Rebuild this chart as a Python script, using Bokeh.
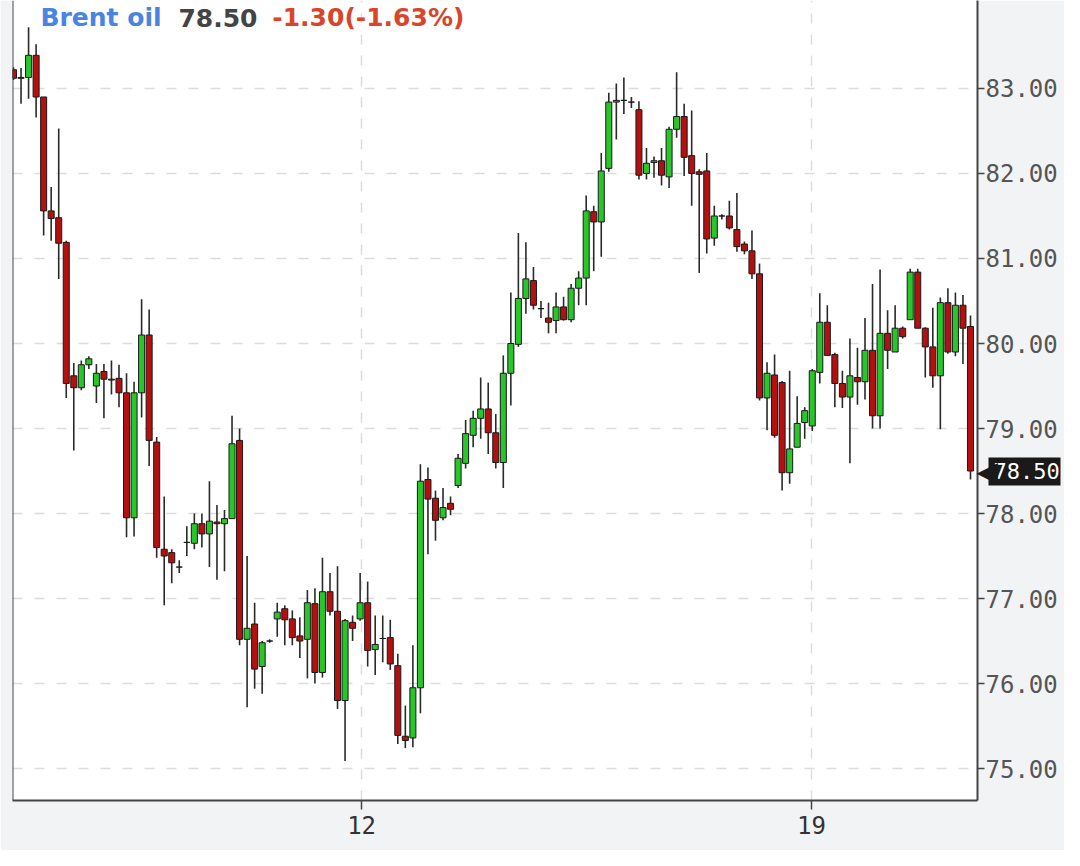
from bokeh.plotting import figure
from bokeh.models import (Range1d, FixedTicker, NumeralTickFormatter, Label, Span, LinearAxis)
from bokeh.embed import file_html
from bokeh.resources import INLINE

# ---- data: 2-hour candles, Brent oil, Dec 2023 ----
opens = [83.22, 83.12, 83.13, 83.39, 82.90, 81.56, 81.48, 81.19, 79.62, 79.48,
         79.75, 79.50, 79.67, 79.58, 79.59, 79.42, 77.95, 79.42, 80.10, 78.84,
         77.58, 77.54, 77.37, 77.66, 77.65, 77.88, 77.76, 77.90, 77.88, 77.94,
         78.86, 76.52, 76.70, 76.20, 76.50, 76.76, 76.88, 76.76, 76.56, 76.52,
         76.94, 76.13, 77.08, 76.85, 75.80, 76.72, 76.76, 76.95, 76.40, 76.53,
         76.54, 76.21, 75.38, 75.36, 75.95, 78.40, 78.18, 77.95, 78.12, 78.33,
         78.59, 78.92, 79.12, 79.23, 78.95, 78.60, 79.65, 79.99, 80.53, 80.74,
         80.41, 80.30, 80.27, 80.43, 80.28, 80.65, 80.77, 81.55, 81.43, 82.06,
         82.84, 82.86, 82.84, 82.75, 82.00, 82.13, 82.15, 81.96, 82.52, 82.67,
         82.21, 82.02, 82.03, 81.24, 81.50, 81.50, 81.34, 81.17, 81.09, 80.82,
         79.36, 79.63, 79.54, 78.48, 78.78, 79.07, 79.03, 79.66, 80.25, 79.87,
         79.53, 79.37, 79.60, 79.55, 79.92, 79.15, 80.12, 79.90, 80.18, 80.28,
         80.84, 80.18, 79.96, 79.62, 80.48, 79.90, 80.45, 80.20]
highs = [83.25, 83.24, 83.72, 83.52, 82.90, 81.84, 82.53, 81.21, 79.77, 79.80,
         79.85, 79.76, 79.76, 79.80, 79.75, 79.65, 79.55, 80.52, 80.40, 78.90,
         78.20, 77.58, 77.45, 77.85, 78.00, 78.00, 78.38, 78.10, 78.04, 79.15,
         79.00, 77.50, 76.95, 76.50, 76.52, 76.95, 76.92, 76.86, 76.78, 77.10,
         77.12, 77.48, 77.30, 77.38, 76.76, 76.80, 77.30, 77.20, 76.80, 76.80,
         76.75, 76.35, 75.74, 76.45, 78.58, 78.54, 78.27, 78.30, 78.20, 78.70,
         79.10, 79.21, 79.60, 79.54, 79.17, 79.86, 80.60, 81.30, 81.19, 80.90,
         80.50, 80.48, 80.60, 80.55, 80.70, 80.85, 81.74, 81.62, 82.24, 82.95,
         83.06, 83.13, 82.90, 82.85, 82.30, 82.20, 82.30, 82.55, 83.19, 82.82,
         82.74, 82.05, 82.24, 81.62, 81.52, 81.68, 81.77, 81.20, 81.33, 80.94,
         79.78, 79.87, 79.56, 79.68, 79.38, 79.25, 79.70, 80.59, 80.45, 79.89,
         79.68, 80.06, 79.95, 80.30, 80.70, 80.87, 80.39, 80.45, 80.20, 80.88,
         80.88, 80.19, 80.42, 80.54, 80.65, 80.60, 80.57, 80.33]
lows = [83.10, 82.82, 82.88, 82.66, 81.27, 81.21, 80.76, 79.36, 78.74, 79.45,
        79.70, 79.30, 79.12, 79.40, 79.25, 77.72, 77.73, 79.13, 78.56, 77.48,
        76.92, 77.18, 77.30, 77.50, 77.58, 77.60, 77.37, 77.22, 77.32, 77.94,
        76.45, 75.72, 75.94, 75.88, 76.48, 76.55, 76.45, 76.45, 76.30, 76.06,
        76.00, 76.07, 76.80, 75.70, 75.09, 76.50, 76.74, 76.20, 76.10, 76.25,
        76.16, 75.29, 75.24, 75.25, 75.65, 77.52, 77.68, 77.92, 77.98, 78.30,
        78.53, 78.78, 78.88, 78.70, 78.53, 78.30, 79.27, 79.96, 80.35, 80.40,
        80.30, 80.12, 80.12, 80.27, 80.25, 80.45, 80.45, 80.85, 81.02, 82.02,
        82.40, 82.70, 82.77, 81.93, 81.93, 81.95, 81.86, 81.83, 82.42, 81.97,
        81.62, 80.83, 81.06, 81.15, 81.46, 81.34, 81.08, 81.05, 80.76, 79.33,
        78.98, 78.89, 78.27, 78.35, 78.78, 78.88, 78.97, 79.53, 79.86, 79.25,
        79.24, 78.59, 79.28, 79.34, 79.00, 79.00, 79.70, 79.90, 80.06, 80.28,
        80.18, 79.60, 79.48, 78.99, 79.88, 79.85, 79.76, 78.40]
closes = [83.12, 83.13, 83.39, 82.90, 81.56, 81.47, 81.18, 79.53, 79.48, 79.75,
          79.82, 79.65, 79.58, 79.57, 79.42, 77.95, 79.42, 80.10, 78.86, 77.60,
          77.50, 77.42, 77.37, 77.66, 77.88, 77.76, 77.91, 77.88, 77.94, 78.82,
          76.52, 76.65, 76.17, 76.48, 76.50, 76.84, 76.75, 76.54, 76.50, 76.95,
          76.13, 77.08, 76.85, 75.80, 76.74, 76.65, 76.95, 76.39, 76.46, 76.53,
          76.23, 75.39, 75.33, 75.95, 78.38, 78.17, 77.92, 78.07, 78.05, 78.65,
          78.94, 79.12, 79.23, 78.95, 78.60, 79.65, 80.00, 80.53, 80.76, 80.45,
          80.41, 80.25, 80.43, 80.28, 80.65, 80.77, 81.56, 81.43, 82.03, 82.84,
          82.86, 82.86, 82.84, 81.98, 82.12, 82.15, 81.98, 82.52, 82.67, 82.19,
          82.00, 81.99, 81.23, 81.50, 81.50, 81.36, 81.14, 81.09, 80.82, 79.36,
          79.65, 78.92, 78.48, 78.76, 79.06, 79.21, 79.68, 80.25, 79.86, 79.53,
          79.37, 79.62, 79.55, 79.92, 79.15, 80.12, 79.92, 80.18, 80.08, 80.84,
          80.18, 79.96, 79.62, 80.48, 79.90, 80.45, 80.18, 78.50]

price_ticks = [75, 76, 77, 78, 79, 80, 81, 82, 83]
day_ticks = [46.2, 105.9]
day_labels = ["12", "19"]
title_parts = ["Brent oil", "78.50", "-1.30(-1.63%)"]
last_price = 78.50

# ---- derived ----
idx = list(range(len(opens)))
tops = [max(o, c) for o, c in zip(opens, closes)]
bottoms = [min(o, c) for o, c in zip(opens, closes)]
colors = ["#28c628" if c > o else ("#b3100f" if c < o else "#333333")
          for o, c in zip(opens, closes)]

X0, X1 = -0.133, 127.93
p = figure(width=1064, height=850, output_backend="svg", toolbar_location=None,
           x_range=Range1d(X0, X1), y_range=Range1d(74.624, 84.035),
           y_axis_location="right", min_border_left=12, min_border_right=87,
           min_border_top=0, min_border_bottom=50)
p.background_fill_color = "white"
p.border_fill_color = "#f2f3f5"
p.outline_line_color = None

# axes
ya = p.yaxis[0]
ya.ticker = FixedTicker(ticks=price_ticks)
ya.formatter = NumeralTickFormatter(format="0.00")
ya.axis_line_color = "#444444"
ya.axis_line_width = 2
ya.major_tick_line_color = "#444444"
ya.major_tick_line_width = 1.5
ya.major_tick_out = 7
ya.major_tick_in = 0
ya.minor_tick_line_color = None
ya.major_label_standoff = 1
ya.major_label_text_font = "DejaVu Sans Mono"
ya.major_label_text_font_size = "24px"
ya.major_label_text_color = "#555555"

xa = p.xaxis[0]
xa.ticker = FixedTicker(ticks=day_ticks)
xa.major_label_overrides = dict(zip(day_ticks, day_labels))
xa.axis_line_color = "#444444"
xa.axis_line_width = 2
xa.major_tick_line_color = "#444444"
xa.major_tick_line_width = 1.5
xa.major_tick_out = 9
xa.major_tick_in = 0
xa.minor_tick_line_color = None
xa.major_label_standoff = 6
xa.major_label_text_font = "DejaVu Sans Mono"
xa.major_label_text_font_size = "24px"
xa.major_label_text_color = "#333333"

# grids
p.ygrid.grid_line_color = "#dcdcdc"
p.ygrid.grid_line_dash = "10 12"
p.ygrid.grid_line_width = 1.5
p.xgrid.grid_line_color = "#dcdcdc"
p.xgrid.grid_line_dash = "10 11"
p.xgrid.grid_line_width = 1.5

# left border line
p.add_layout(Span(location=X0, dimension="height", line_color="#444444", line_width=2))

# candles
p.segment(x0=idx, y0=lows, x1=idx, y1=highs, line_color="#2a2a2a", line_width=1.6)
p.vbar(x=idx, width=0.8, top=tops, bottom=bottoms, fill_color=colors,
       line_color="#1a1a1a", line_width=1)

# header text
title_x = [3.58, 21.88, 34.35]
title_colors = ["#4a84e2", "#444444", "#d9442b"]
for tx, txt, col in zip(title_x, title_parts, title_colors):
    p.add_layout(Label(x=tx, y=83.835, text=txt, text_color=col,
                       text_font="DejaVu Sans", text_font_size="25px",
                       text_font_style="bold", text_baseline="middle",
                       text_align="left"))

# last-price marker: extra right-side axes stacked outside the price axis,
# pulled back over it with inward ticks and negative label standoff
box_axis = LinearAxis(ticker=FixedTicker(ticks=[last_price]),
                      formatter=NumeralTickFormatter(format="0.00"))
box_axis.axis_line_color = None
box_axis.minor_tick_line_color = None
box_axis.major_tick_line_color = "#1a1a1a"
box_axis.major_tick_line_width = 28
box_axis.major_tick_out = 0
box_axis.major_tick_in = 72
box_axis.major_label_standoff = -67
box_axis.major_label_text_font = "DejaVu Sans Mono"
box_axis.major_label_text_font_size = "22px"
box_axis.major_label_text_color = "white"
p.add_layout(box_axis, "right")

arrow_axis = LinearAxis(ticker=FixedTicker(ticks=[last_price]),
                        major_label_overrides={last_price: "\u25C0"})
arrow_axis.axis_line_color = None
arrow_axis.major_tick_line_color = None
arrow_axis.minor_tick_line_color = None
arrow_axis.major_tick_out = 0
arrow_axis.major_tick_in = 0
arrow_axis.major_label_standoff = -86
arrow_axis.major_label_text_font = "DejaVu Sans"
arrow_axis.major_label_text_font_size = "28px"
arrow_axis.major_label_text_color = "#1a1a1a"
p.add_layout(arrow_axis, "right")

open("out.html", "w").write(file_html(p, INLINE))
